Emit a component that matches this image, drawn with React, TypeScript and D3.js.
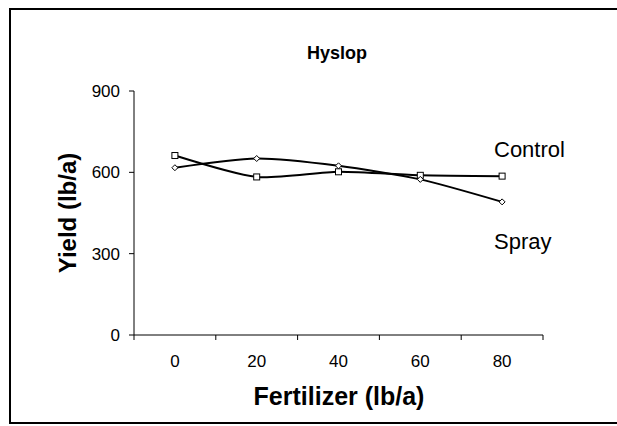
import React from 'react';
import * as d3 from 'd3';

// chart data
const fertilizer = ['0', '20', '40', '60', '80'];
const controlYield = [662, 583, 602, 589, 586];
const sprayYield = [617, 651, 624, 574, 491];
const yTicks = [0, 300, 600, 900];

const W = 617;
const H = 426;
const font = 'Arial, "Liberation Sans", sans-serif';

const App = () => {
  // plot area (Excel-style category axis, points centred between ticks)
  const left = 134;
  const right = 543;
  const top = 91;
  const bottom = 335;

  const x = d3.scaleBand().domain(fertilizer).range([left, right]);
  const y = d3.scaleLinear().domain([0, 900]).range([bottom, top]);

  const line = d3
    .line<number>()
    .x((_, i) => x(fertilizer[i])! + x.bandwidth() / 2)
    .y((d) => y(d))
    .curve(d3.curveCardinal.tension(0.3));

  const tickXs = fertilizer.map((f) => x(f)!).concat([right]);

  return (
    <svg
      width={W}
      height={H}
      style={{ position: 'absolute', left: 0, top: 0, overflow: 'hidden' }}
      fontFamily={font}
    >
      <rect x={0} y={0} width={W} height={H} fill="#fff" />
      {/* frame: top, left and bottom edges only */}
      <line x1={9} x2={W} y1={9} y2={9} stroke="#000" strokeWidth={2} />
      <line x1={10} x2={10} y1={8} y2={424} stroke="#000" strokeWidth={2} />
      <line x1={9} x2={W} y1={423} y2={423} stroke="#000" strokeWidth={2} />

      <text x={337} y={59} textAnchor="middle" fontSize={18} fontWeight="bold">
        Hyslop
      </text>

      {/* y axis */}
      <line x1={left} x2={left} y1={top} y2={bottom} stroke="#000" />
      {yTicks.map((t) => (
        <g key={t}>
          <line x1={left - 5} x2={left} y1={y(t)} y2={y(t)} stroke="#000" />
          <text x={left - 14} y={y(t) + 6} textAnchor="end" fontSize={17}>
            {t}
          </text>
        </g>
      ))}

      {/* x axis */}
      <line x1={left} x2={right} y1={bottom} y2={bottom} stroke="#000" />
      {tickXs.map((tx, i) => (
        <line key={i} x1={tx} x2={tx} y1={bottom} y2={bottom + 5} stroke="#000" />
      ))}
      {fertilizer.map((f) => (
        <text key={f} x={x(f)! + x.bandwidth() / 2} y={bottom + 32} textAnchor="middle" fontSize={17}>
          {f}
        </text>
      ))}

      {/* axis titles */}
      <text x={339} y={405} textAnchor="middle" fontSize={25} fontWeight="bold">
        Fertilizer (lb/a)
      </text>
      <text
        transform={`translate(76, ${(top + bottom) / 2}) rotate(-90)`}
        textAnchor="middle"
        fontSize={24}
        fontWeight="bold"
      >
        Yield (lb/a)
      </text>

      {/* series */}
      <path d={line(controlYield)!} fill="none" stroke="#000" strokeWidth={2} />
      <path d={line(sprayYield)!} fill="none" stroke="#000" strokeWidth={2} />
      {controlYield.map((v, i) => (
        <rect
          key={i}
          x={x(fertilizer[i])! + x.bandwidth() / 2 - 3}
          y={y(v) - 3}
          width={6}
          height={6}
          fill="#fff"
          stroke="#000"
          strokeWidth={1}
        />
      ))}
      {sprayYield.map((v, i) => {
        const cx = x(fertilizer[i])! + x.bandwidth() / 2;
        const cy = y(v);
        return (
          <path
            key={i}
            d={`M${cx},${cy - 3} L${cx + 3},${cy} L${cx},${cy + 3} L${cx - 3},${cy} Z`}
            fill="#fff"
            stroke="#000"
            strokeWidth={1}
          />
        );
      })}

      {/* series labels */}
      <text x={494} y={157} fontSize={22}>
        Control
      </text>
      <text x={494} y={249} fontSize={22}>
        Spray
      </text>
    </svg>
  );
};

export default App;
